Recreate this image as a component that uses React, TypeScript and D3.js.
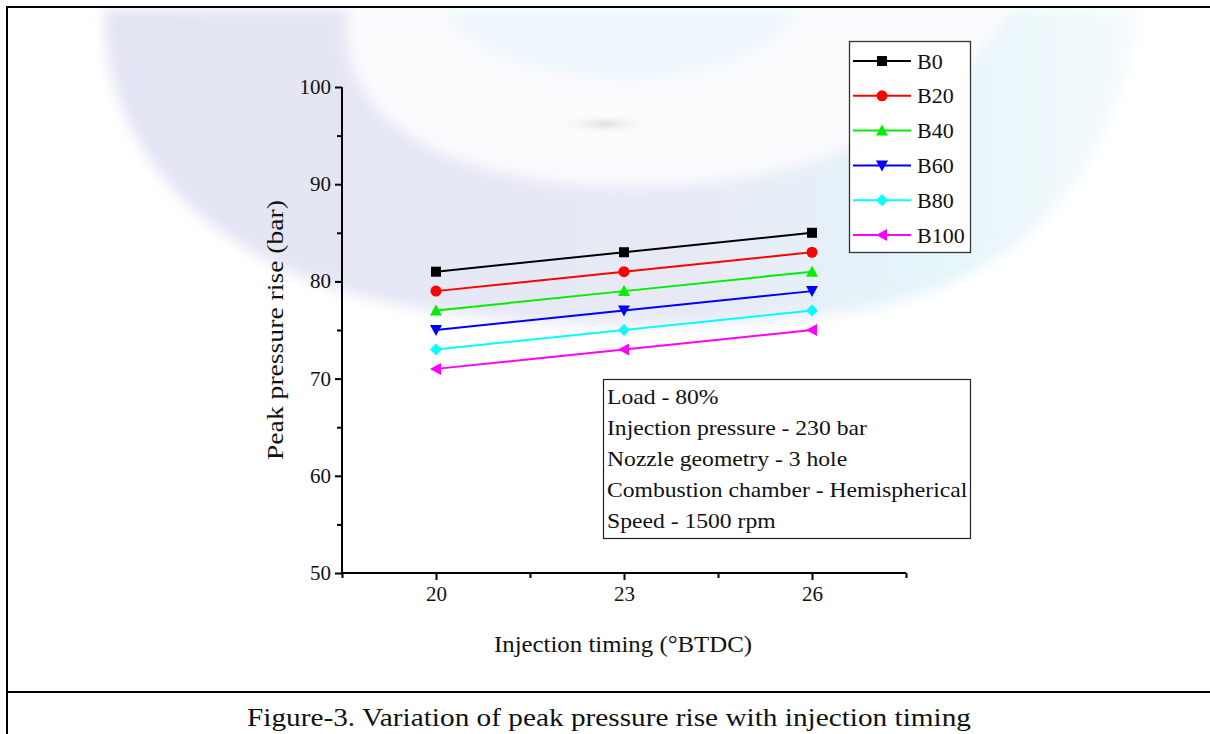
import React, { useEffect, useRef } from "react";
import * as d3 from "d3";

const timings = [20, 23, 26];
const seriesNames = ["B0", "B20", "B40", "B60", "B80", "B100"];
const seriesColors = ["#000000", "#ff0000", "#00ee00", "#0000ff", "#00ffff", "#ff00ff"];
const seriesSymbols = ["square", "circle", "triangleUp", "triangleDown", "diamond", "triangleLeft"];
const b0 = [81, 83, 85];
const b20 = [79, 81, 83];
const b40 = [77, 79, 81];
const b60 = [75, 77, 79];
const b80 = [73, 75, 77];
const b100 = [71, 73, 75];
const seriesValues = [b0, b20, b40, b60, b80, b100];
const yTicks = [50, 60, 70, 80, 90, 100];
const xTicks = [20, 23, 26];
const infoLines = [
  "Load - 80%",
  "Injection pressure - 230 bar",
  "Nozzle geometry - 3 hole",
  "Combustion chamber - Hemispherical",
  "Speed - 1500 rpm",
];

const FONT = "'Liberation Serif', 'DejaVu Serif', serif";

function markerPath(kind: string, cx: number, cy: number, s: number): string {
  const h = s / 2;
  switch (kind) {
    case "square":
      return `M${cx - h},${cy - h}H${cx + h}V${cy + h}H${cx - h}Z`;
    case "triangleUp":
      return `M${cx},${cy - h - 1}L${cx + h + 1},${cy + h}L${cx - h - 1},${cy + h}Z`;
    case "triangleDown":
      return `M${cx},${cy + h + 1}L${cx + h + 1},${cy - h}L${cx - h - 1},${cy - h}Z`;
    case "triangleLeft":
      return `M${cx - h - 1},${cy}L${cx + h},${cy - h - 1}L${cx + h},${cy + h + 1}Z`;
    case "diamond":
      return `M${cx},${cy - h - 1}L${cx + h + 1},${cy}L${cx},${cy + h + 1}L${cx - h - 1},${cy}Z`;
    default:
      return "";
  }
}

function stretch(sel: any, factor: number) {
  sel.each(function (this: SVGTextElement) {
    const len = this.getComputedTextLength();
    if (len > 0) {
      this.setAttribute("textLength", String(len * factor));
      this.setAttribute("lengthAdjust", "spacingAndGlyphs");
    }
  });
}

export default function App() {
  const ref = useRef<SVGSVGElement | null>(null);

  useEffect(() => {
    const svg = d3.select(ref.current);
    svg.selectAll("*").remove();

    const W = 1210, H = 734;
    svg.append("rect").attr("width", W).attr("height", H).attr("fill", "#ffffff");

    // faint watermark-like background
    const defs = svg.append("defs");
    const lgd = defs.append("linearGradient").attr("id", "wm").attr("x1", "0").attr("x2", "1").attr("y1", "0").attr("y2", "0");
    lgd.append("stop").attr("offset", "0").attr("stop-color", "#e3e4f3");
    lgd.append("stop").attr("offset", "0.55").attr("stop-color", "#e7e9f5");
    lgd.append("stop").attr("offset", "0.8").attr("stop-color", "#e4f5fa");
    lgd.append("stop").attr("offset", "1").attr("stop-color", "#f6fbfd");
    const rg = defs.append("radialGradient").attr("id", "spot");
    rg.append("stop").attr("offset", "0").attr("stop-color", "#e0e0e0");
    rg.append("stop").attr("offset", "1").attr("stop-color", "#ffffff").attr("stop-opacity", 0);
    const blur = defs.append("filter").attr("id", "soft").attr("x", "-10%").attr("y", "-10%").attr("width", "120%").attr("height", "130%");
    blur.append("feGaussianBlur").attr("stdDeviation", 7);

    const bg = svg.append("g").attr("filter", "url(#soft)");
    bg.append("path")
      .attr("d", "M105,8 C100,140 200,262 385,302 C520,330 700,332 850,312 C1000,288 1110,200 1140,8 Z")
      .attr("fill", "url(#wm)");
    bg.append("path")
      .attr("d", "M350,8 C330,110 430,180 615,186 C780,190 940,140 1010,8 Z")
      .attr("fill", "#fbfbfe");
    bg.append("path")
      .attr("d", "M440,8 C470,60 560,82 640,80 C720,76 780,50 800,8 Z")
      .attr("fill", "#eef8fc");
    svg.append("ellipse").attr("cx", 605).attr("cy", 124).attr("rx", 55).attr("ry", 12).attr("fill", "url(#spot)");
    svg.append("rect").attr("x", 0).attr("y", 0).attr("width", W).attr("height", 7).attr("fill", "#ffffff");

    // frame
    svg.append("line").attr("x1", 7).attr("x2", W).attr("y1", 7).attr("y2", 7).attr("stroke", "#000").attr("stroke-width", 2);
    svg.append("line").attr("x1", 7).attr("x2", 7).attr("y1", 6).attr("y2", H).attr("stroke", "#000").attr("stroke-width", 2);
    svg.append("line").attr("x1", 7).attr("x2", W).attr("y1", 692).attr("y2", 692).attr("stroke", "#000").attr("stroke-width", 2);

    const x = d3.scaleLinear().domain([18.5, 27.5]).range([342, 906]);
    const y = d3.scaleLinear().domain([50, 100]).range([573, 87]);

    const g = svg.append("g");

    // Y axis
    const yAxis = d3.axisLeft(y)
      .tickValues(d3.range(50, 100.1, 5))
      .tickSize(7)
      .tickFormat((d) => (yTicks.includes(+d) ? String(d) : ""));
    const ya = g.append("g").attr("transform", `translate(${x(18.5)},0)`).call(yAxis);
    ya.select(".domain").attr("stroke-width", 2).attr("d", `M0,${y(100)}V${y(50)}`);
    ya.selectAll(".tick line").attr("stroke-width", 2)
      .attr("x2", (d: any) => (yTicks.includes(+d) ? -7 : -5));
    ya.selectAll(".tick text").attr("font-family", FONT).attr("font-size", 20).attr("fill", "#111").attr("x", -11);
    stretch(ya.selectAll(".tick text"), 1.05);

    // X axis
    const xAxis = d3.axisBottom(x)
      .tickValues([18.5, 20, 21.5, 23, 24.5, 26, 27.5])
      .tickSize(7)
      .tickFormat((d) => (xTicks.includes(+d) ? String(d) : ""));
    const xa = g.append("g").attr("transform", `translate(0,${y(50)})`).call(xAxis);
    xa.select(".domain").attr("stroke-width", 2).attr("d", `M${x(18.5)},0H${x(27.5)}`);
    xa.selectAll(".tick line").attr("stroke-width", 2)
      .attr("y2", (d: any) => (xTicks.includes(+d) ? 7 : 5));
    xa.selectAll(".tick text").attr("font-family", FONT).attr("font-size", 20).attr("fill", "#111").attr("y", 14);
    stretch(xa.selectAll(".tick text"), 1.05);

    // axis titles
    const xt = g.append("text").attr("x", 623).attr("y", 652).attr("text-anchor", "middle")
      .attr("font-family", FONT).attr("font-size", 24).attr("fill", "#111")
      .text("Injection timing (°BTDC)");
    xt.attr("textLength", 258).attr("lengthAdjust", "spacingAndGlyphs");
    const yt = g.append("text").attr("transform", `translate(283,330) rotate(-90)`)
      .attr("text-anchor", "middle")
      .attr("font-family", FONT).attr("font-size", 24).attr("fill", "#111")
      .text("Peak pressure rise (bar)");
    yt.attr("textLength", 260).attr("lengthAdjust", "spacingAndGlyphs");

    // series
    const line = d3.line<number>().x((_, i) => x(timings[i])).y((d) => y(d));
    seriesValues.forEach((vals, si) => {
      const col = seriesColors[si];
      g.append("path").attr("d", line(vals) as string).attr("fill", "none").attr("stroke", col).attr("stroke-width", 2);
      vals.forEach((v, i) => {
        const cx = x(timings[i]), cy = y(v);
        if (seriesSymbols[si] === "circle") {
          g.append("circle").attr("cx", cx).attr("cy", cy).attr("r", 5.5).attr("fill", col);
        } else {
          g.append("path").attr("d", markerPath(seriesSymbols[si], cx, cy, 10)).attr("fill", col);
        }
      });
    });

    // legend
    const lg = svg.append("g");
    lg.append("rect").attr("x", 849.5).attr("y", 41.5).attr("width", 121).attr("height", 211)
      .attr("fill", "#ffffff").attr("stroke", "#333").attr("stroke-width", 1.3);
    seriesNames.forEach((name, i) => {
      const cy = 61 + i * 34.8;
      const col = seriesColors[i];
      lg.append("line").attr("x1", 853).attr("x2", 911).attr("y1", cy).attr("y2", cy).attr("stroke", col).attr("stroke-width", 2);
      if (seriesSymbols[i] === "circle") {
        lg.append("circle").attr("cx", 882).attr("cy", cy).attr("r", 5.5).attr("fill", col);
      } else {
        lg.append("path").attr("d", markerPath(seriesSymbols[i], 882, cy, 10)).attr("fill", col);
      }
      lg.append("text").attr("x", 917).attr("y", cy + 7.5)
        .attr("font-family", FONT).attr("font-size", 22).attr("fill", "#111").text(name);
    });

    // info box
    const ib = svg.append("g");
    ib.append("rect").attr("x", 603.5).attr("y", 379.5).attr("width", 367).attr("height", 159)
      .attr("fill", "#ffffff").attr("stroke", "#222").attr("stroke-width", 1.2);
    const infoTexts = ib.selectAll("text.info").data(infoLines).enter().append("text")
      .attr("class", "info")
      .attr("x", 607).attr("y", (_: string, i: number) => 404 + i * 31)
      .attr("font-family", FONT).attr("font-size", 22).attr("fill", "#111").text((t: string) => t);
    stretch(infoTexts, 1.074);

    // caption
    const cap = svg.append("text").attr("x", 609).attr("y", 726).attr("text-anchor", "middle")
      .attr("font-family", FONT).attr("font-size", 26).attr("fill", "#111")
      .text("Figure-3. Variation of peak pressure rise with injection timing");
    cap.attr("textLength", 724).attr("lengthAdjust", "spacingAndGlyphs");
  }, []);

  return (
    <svg ref={ref} width={1210} height={734} style={{ position: "absolute", left: 0, top: 0 }} />
  );
}
